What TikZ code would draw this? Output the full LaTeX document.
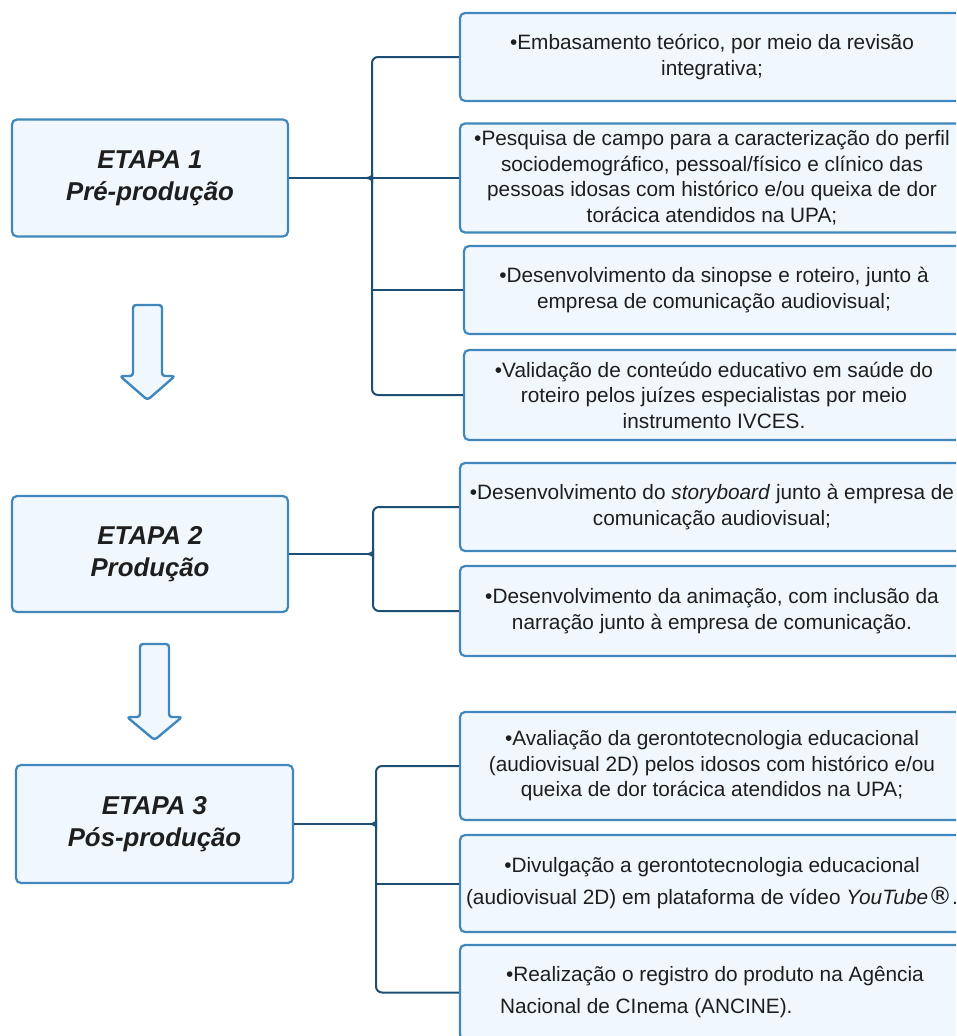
\documentclass[tikz,border=0pt]{standalone}
\usepackage{fontspec}
\setmainfont{Liberation Sans}
\newfontfamily\symfont{DejaVu Sans}
\definecolor{boxline}{HTML}{3F87BC}
\definecolor{boxfill}{HTML}{F1F8FD}
\definecolor{connblue}{HTML}{1D4F75}
\definecolor{txt}{HTML}{1E1E1E}
\tikzset{
  rbox/.style={draw=boxline, fill=boxfill, line width=2.2pt, rounded corners=5pt,
    align=center, text=txt, inner sep=0pt, font=\fontsize{20.8}{25.5}\selectfont},
  widebox/.style={rbox, font=\fontsize{20.8}{32}\selectfont},
  stage/.style={rbox, minimum width=276pt, font=\fontsize{25.8}{32}\selectfont\bfseries\itshape},
  link/.style={draw=connblue, line width=2pt, rounded corners=6pt},
  bigarrow/.style={draw=boxline, fill=boxfill, line width=2.4pt, rounded corners=3pt, line join=round}
}
\begin{document}
\begin{tikzpicture}[x=1pt,y=-1pt]
\useasboundingbox (0,0) rectangle (956,1036);
\clip (0,0) rectangle (956,1036);
% stage boxes
\node[stage, minimum height=117pt] (e1) at (150,178) {ETAPA 1\\Pré-produção};
\node[stage, minimum height=116pt] (e2) at (150,554) {ETAPA 2\\Produção};
\node[stage, minimum width=277pt, minimum height=118pt] (e3) at (154.5,824) {ETAPA 3\\Pós-produção};
% big arrows
\draw[bigarrow] (133,305) -- (162,305) -- (162,376) -- (175,376) -- (147.5,400) -- (120,376) -- (133,376) -- cycle;
\draw[bigarrow] (140,644) -- (169,644) -- (169,717) -- (182,717) -- (154.5,740) -- (127,717) -- (140,717) -- cycle;
% right boxes
\node[rbox, minimum width=504pt, minimum height=88pt] (b1) at (712,57) {•Embasamento teórico, por meio da revisão\\integrativa;};
\node[rbox, minimum width=504pt, minimum height=109pt] (b2) at (712,178) {•Pesquisa de campo para a caracterização do perfil\\sociodemográfico, pessoal/físico e clínico das\\pessoas idosas com histórico e/ou queixa de dor\\torácica atendidos na UPA;};
\node[rbox, minimum width=500pt, minimum height=88pt] (b3) at (714,290) {•Desenvolvimento da sinopse e roteiro, junto à\\empresa de comunicação audiovisual;};
\node[rbox, minimum width=500pt, minimum height=90pt] (b4) at (714,395) {•Validação de conteúdo educativo em saúde do\\roteiro pelos juízes especialistas por meio\\instrumento IVCES.};
\node[rbox, minimum width=504pt, minimum height=88pt] (b5) at (712,507) {•Desenvolvimento do \textit{storyboard} junto à empresa de\\comunicação audiovisual;};
\node[rbox, minimum width=504pt, minimum height=90pt] (b6) at (712,611) {•Desenvolvimento da animação, com inclusão da\\narração junto à empresa de comunicação.};
\node[rbox, minimum width=504pt, minimum height=108pt] (b7) at (712,766) {•Avaliação da gerontotecnologia educacional\\(audiovisual 2D) pelos idosos com histórico e/ou\\queixa de dor torácica atendidos na UPA;};
\node[widebox, minimum width=504pt, minimum height=97pt] (b8) at (712,883.5) {•Divulgação a gerontotecnologia educacional\\(audiovisual 2D) em plataforma de vídeo \textit{YouTube}{\symfont\fontsize{24}{24}\selectfont ®}.};
\node[widebox, align=left, minimum width=504pt, minimum height=95pt] (b9) at (712,992.5) {\hspace{6pt}•Realização o registro do produto na Agência\\Nacional de CInema (ANCINE).};
% connectors (brace-like junctions)
\coordinate (j1) at (367,178);
\coordinate (j2) at (368,554);
\coordinate (j3) at (371,824);
\draw[link] (b1.west) -| (372,171) to[out=-90,in=0] (j1);
\draw[link] (j1) to[out=0,in=90] (372,185) |- (b4.west);
\draw[link] (e1.east) -- (j1) -- (b2.west);
\draw[link] (b3.west -| 372,0) -- (b3.west);
\draw[link] (b5.west) -| (373,547) to[out=-90,in=0] (j2);
\draw[link] (j2) to[out=0,in=90] (373,561) |- (b6.west);
\draw[link] (e2.east) -- (j2);
\draw[link] (b7.west) -| (376,817) to[out=-90,in=0] (j3);
\draw[link] (j3) to[out=0,in=90] (376,831) |- (b9.west);
\draw[link] (e3.east) -- (j3);
\draw[link] (b8.west -| 376,0) -- (b8.west);
\end{tikzpicture}
\end{document}
